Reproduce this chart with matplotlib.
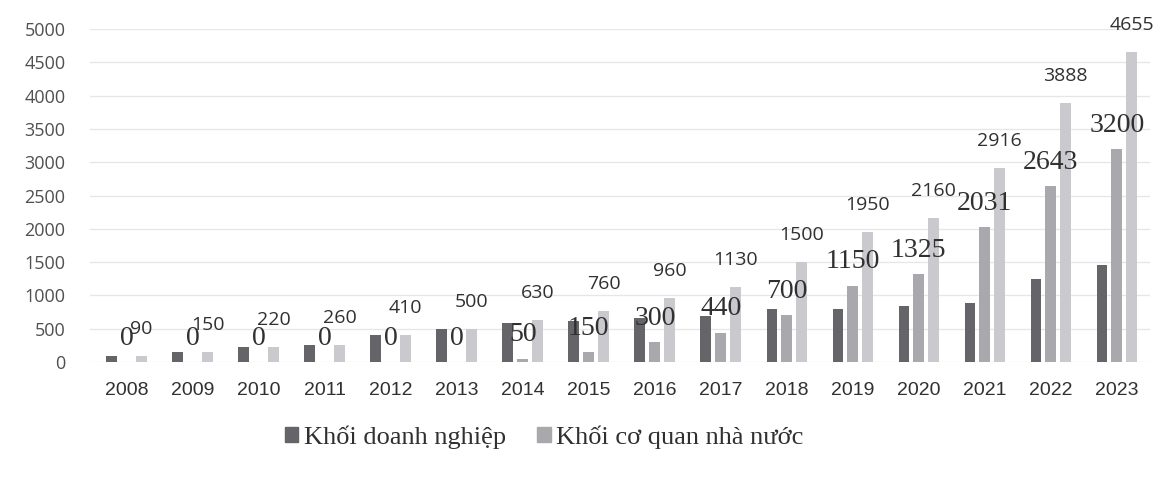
import matplotlib
matplotlib.use("Agg")
import matplotlib.pyplot as plt
import numpy as np
from matplotlib.patches import Patch

years = ["2008", "2009", "2010", "2011", "2012", "2013", "2014", "2015",
         "2016", "2017", "2018", "2019", "2020", "2021", "2022", "2023"]
doanh_nghiep = [90, 150, 220, 260, 410, 500, 580, 610, 660, 690, 800, 800, 835, 885, 1245, 1455]
co_quan = [0, 0, 0, 0, 0, 0, 50, 150, 300, 440, 700, 1150, 1325, 2031, 2643, 3200]
tong = [90, 150, 220, 260, 410, 500, 630, 760, 960, 1130, 1500, 1950, 2160, 2916, 3888, 4655]
yticks = [0, 500, 1000, 1500, 2000, 2500, 3000, 3500, 4000, 4500, 5000]

c_dark = "#656569"
c_mid = "#a8a8ad"
c_light = "#c9c9ce"

fig = plt.figure(figsize=(11.58, 4.86), dpi=100)
ax = fig.add_axes([0.078, 0.255, 0.915, 0.685])

x = np.arange(len(years))
w = 0.165
off = 0.225
ax.bar(x - off, doanh_nghiep, w, color=c_dark, zorder=3)
ax.bar(x, co_quan, w, color=c_mid, zorder=3)
ax.bar(x + off, tong, w, color=c_light, zorder=3)

for xi, v in zip(x, co_quan):
    ax.text(xi, v + 170, str(v), ha="center", va="bottom", fontsize=20,
            family="Liberation Serif", color="#303030", zorder=4)
for xi, v in zip(x, tong):
    ax.text(xi + off, v + 270, str(v), ha="center", va="bottom", fontsize=14,
            family="Open Sans", color="#303030", zorder=4)

ax.set_ylim(0, 5000)
ax.set_xlim(-0.55, len(years) - 0.5)
ax.set_yticks(yticks)
ax.set_yticklabels([str(t) for t in yticks], fontsize=13, color="#505050", family="Open Sans")
ax.set_xticks(x)
ax.set_xticklabels(years, fontsize=14, color="#303030", family="Liberation Sans")
ax.tick_params(length=0, pad=14)
ax.tick_params(axis="y", pad=18)
ax.grid(axis="y", color="#e6e6e6", linewidth=0.9, zorder=0)
for s in ax.spines.values():
    s.set_visible(False)

handles = [Patch(color=c_dark), Patch(color=c_mid)]
fig.legend(handles, ["Khối doanh nghiệp", "Khối cơ quan nhà nước"],
           loc="center", bbox_to_anchor=(0.47, 0.1), ncol=2, frameon=False,
           prop={"family": "Liberation Serif", "size": 19},
           handlelength=0.5, handleheight=0.5, handletextpad=0.2, columnspacing=1.2,
           labelcolor="#303030")

fig.savefig("out.png", dpi=100, facecolor="white")
